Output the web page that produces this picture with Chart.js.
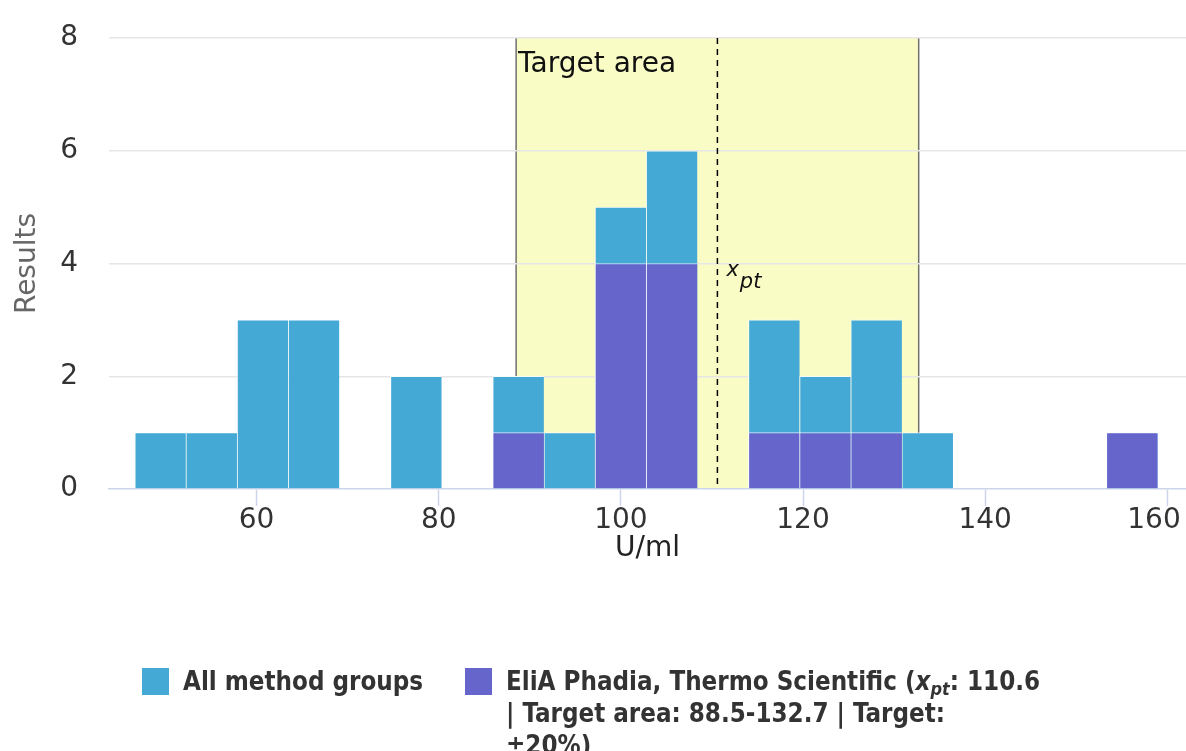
<!DOCTYPE html>
<html><head><meta charset="utf-8">
<script src="https://cdn.jsdelivr.net/npm/chart.js@4"></script>
<style>
html,body{margin:0;padding:0;background:#fff;width:1186px;height:751px;overflow:hidden;}
#wrap{position:absolute;left:0;top:0;width:1186px;height:589px;}
#legend{position:absolute;left:0;top:0;width:1186px;height:751px;font-family:"DejaVu Sans Condensed","DejaVu Sans",sans-serif;font-stretch:condensed;font-weight:bold;font-size:25.7px;color:#333;}
.sym{position:absolute;width:27px;height:27px;}
.txt{position:absolute;white-space:nowrap;line-height:32px;}
.txt i{font-style:italic;}
.txt sub{font-size:70%;vertical-align:-5px;line-height:0;}
</style></head>
<body>
<div id="wrap"><canvas id="c" width="1186" height="589"></canvas></div>
<div id="legend">
  <div class="sym" style="left:142px;top:668px;background:#45a9d5"></div>
  <div class="txt" style="left:183px;top:665px">All method groups</div>
  <div class="sym" style="left:465px;top:668px;background:#6665cb"></div>
  <div class="txt" style="left:506px;top:665px">EliA Phadia, Thermo Scientific (<i>x<sub>pt</sub></i>: 110.6<br>| Target area: 88.5-132.7 | Target:<br>±20%)</div>
</div>
<script>
// ---- data ----
const binCenters = [49.44, 55.05, 60.67, 66.28, 71.90, 77.51, 83.13, 88.74, 94.36, 99.97,
                    105.59, 111.20, 116.82, 122.43, 128.05, 133.66, 139.28, 144.89, 150.51, 156.12];
const allMethodGroups = [1, 1, 3, 3, 0, 2, 0, 2, 1, 5, 6, 0, 3, 2, 3, 1, 0, 0, 0, 1];
const eliaPhadia      = [0, 0, 0, 0, 0, 0, 0, 1, 0, 4, 4, 0, 1, 1, 1, 0, 0, 0, 0, 1];
const xTickValues = [60, 80, 100, 120, 140, 160];
const yTickValues = [0, 2, 4, 6, 8];
const xpt = 110.6;
const targetArea = [88.5, 132.7];
const xRange = [43.8, 162.05];
const yRange = [0, 8];

const FONT = '"DejaVu Sans", sans-serif';

const annot = {
  id: 'annot',
  beforeDraw(chart) {
    const {ctx, scales: {x, y}} = chart;
    const x0 = x.getPixelForValue(targetArea[0]);
    const x1 = x.getPixelForValue(targetArea[1]);
    const top = y.getPixelForValue(yRange[1]);
    const bot = y.getPixelForValue(0);
    ctx.save();
    ctx.fillStyle = '#fafcc5';
    ctx.fillRect(x0, top, x1 - x0, bot - top);
    ctx.strokeStyle = '#707070';
    ctx.lineWidth = 1.5;
    ctx.beginPath();
    ctx.moveTo(x0, top); ctx.lineTo(x0, bot);
    ctx.moveTo(x1, top); ctx.lineTo(x1, bot);
    ctx.stroke();
    ctx.restore();
  },
  afterDatasetsDraw(chart) {
    const {ctx, scales: {x, y}} = chart;
    const x0 = x.getPixelForValue(targetArea[0]);
    const top = y.getPixelForValue(yRange[1]);
    const bot = y.getPixelForValue(0);
    const xp = x.getPixelForValue(xpt);
    ctx.save();
    ctx.strokeStyle = '#000';
    ctx.lineWidth = 1.5;
    ctx.setLineDash([6, 5]);
    ctx.beginPath();
    ctx.moveTo(xp, top); ctx.lineTo(xp, bot);
    ctx.stroke();
    ctx.setLineDash([]);
    ctx.fillStyle = '#111';
    ctx.textBaseline = 'alphabetic';
    ctx.textAlign = 'left';
    ctx.font = '28px ' + FONT;
    ctx.fillText('Target area', x0 + 2, top + 34);
    const yb = y.getPixelForValue(4);
    ctx.font = 'italic 21px ' + FONT;
    ctx.fillText('x', xp + 9, yb + 12);
    const w = ctx.measureText('x').width;
    ctx.fillText('pt', xp + 10 + w, yb + 24);
    ctx.restore();
  }
};

new Chart(document.getElementById('c'), {
  type: 'bar',
  data: {
    datasets: [
      {
        label: 'All method groups',
        data: binCenters.map((c, i) => ({x: c, y: allMethodGroups[i]})),
        backgroundColor: '#45a9d5',
        borderColor: 'rgba(255,255,255,0.75)',
        borderWidth: {left: 1, top: 1, right: 0, bottom: 0},
        borderSkipped: false,
        barPercentage: 1, categoryPercentage: 1,
        order: 1
      },
      {
        label: 'EliA Phadia, Thermo Scientific',
        data: binCenters.map((c, i) => ({x: c, y: eliaPhadia[i]})),
        backgroundColor: '#6665cb',
        borderColor: 'rgba(255,255,255,0.75)',
        borderWidth: {left: 1, top: 1, right: 0, bottom: 0},
        borderSkipped: false,
        barPercentage: 1, categoryPercentage: 1,
        order: 0
      }
    ]
  },
  options: {
    responsive: false,
    animation: false,
    devicePixelRatio: 1,
    layout: {padding: {top: 38, left: 0, right: 0, bottom: 0}},
    plugins: {legend: {display: false}, tooltip: {enabled: false}},
    scales: {
      x: {
        type: 'linear',
        stacked: true,
        offset: false,
        min: xRange[0], max: xRange[1],
        afterBuildTicks: s => { s.ticks = xTickValues.map(v => ({value: v})); },
        afterFit: s => { s.height = 100; s.paddingLeft = 0; s.paddingRight = 0; s.paddingTop = 0; s.paddingBottom = 0; },
        grid: {offset: false, drawOnChartArea: false, drawTicks: true, tickLength: 17, tickColor: '#ccd6eb', tickWidth: 1.5},
        border: {display: true, color: '#ccd6eb', width: 1.5},
        ticks: {
          font: {family: FONT, size: 28}, color: '#333',
          padding: -2, maxRotation: 0, autoSkip: false,
          callback: v => v === 160 ? '160\u00a0\u00a0\u00a0' : String(v)
        },
        title: {display: true, text: 'U/ml', font: {family: FONT, size: 28}, color: '#222', padding: {top: 0, bottom: 23}}
      },
      y: {
        min: yRange[0], max: yRange[1],
        afterBuildTicks: s => { s.ticks = yTickValues.map(v => ({value: v})); },
        afterFit: s => { s.width = 109; s.paddingTop = 0; s.paddingBottom = 0; },
        grid: {drawTicks: false, color: ctx => ctx.tick && ctx.tick.value === 0 ? 'rgba(0,0,0,0)' : '#e6e6e6', lineWidth: 1.5},
        border: {display: false},
        ticks: {font: {family: FONT, size: 28}, color: '#333', padding: 31},
        title: {display: true, text: 'Results', font: {family: FONT, size: 28}, color: '#666', padding: {top: 11, bottom: 0}}
      }
    }
  },
  plugins: [annot]
});
</script>
</body></html>
